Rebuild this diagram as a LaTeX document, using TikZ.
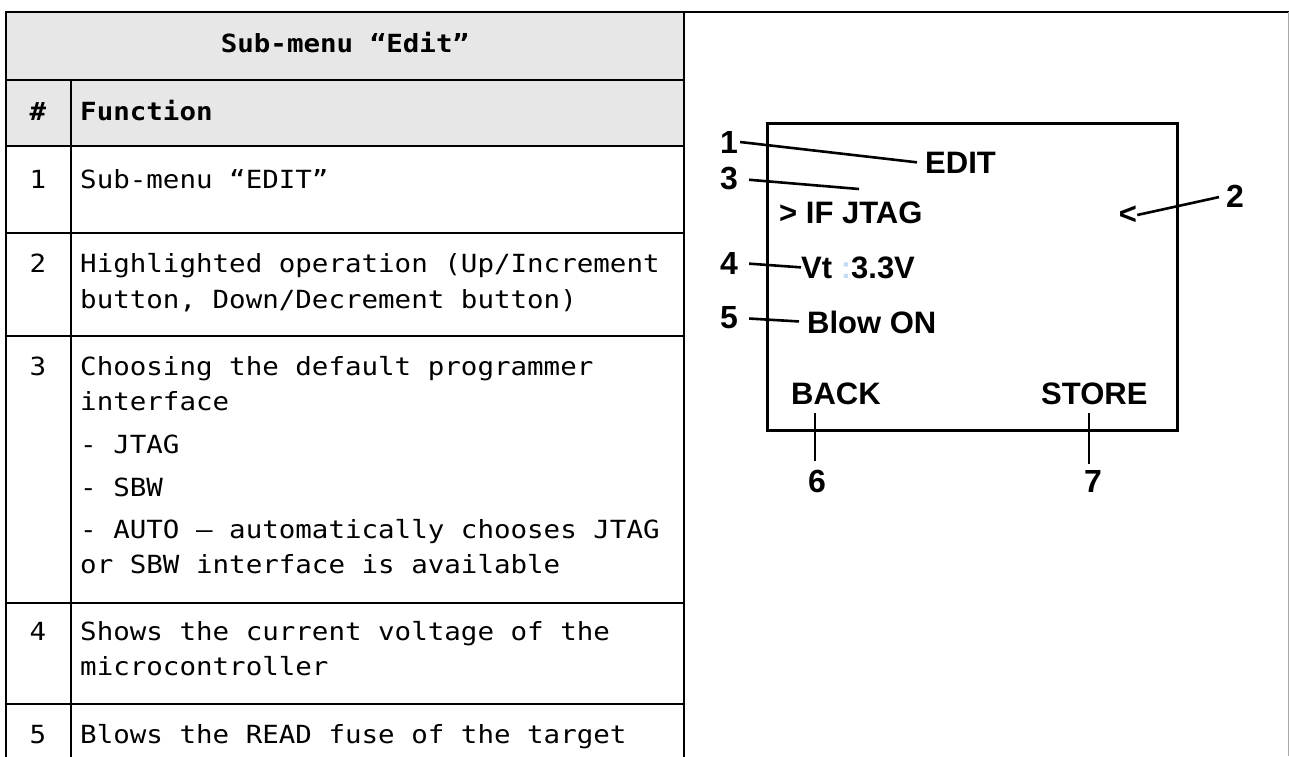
\documentclass[tikz,border=0pt]{standalone}
\usepackage{fontspec}
\usepackage{xcolor}
\usepackage{tikz}
\usetikzlibrary{calc, positioning}
\newfontfamily\monofam[FakeStretch=1.1]{DejaVu Sans Mono}
\newfontfamily\lcdfam{Liberation Sans}
\newcommand{\tabfont}{\monofam\fontsize{25}{30}\selectfont}
\newcommand{\lcdfont}{\lcdfam\bfseries\fontsize{31}{36}\selectfont}
\newcommand{\numfont}{\lcdfam\bfseries\fontsize{32}{36}\selectfont}
\definecolor{headgray}{HTML}{E7E7E7}
\definecolor{edgegray}{HTML}{A8A8A8}
\definecolor{faintcolon}{HTML}{C4DDF4}
\tikzset{rule/.style={line width=2.4pt, line cap=rect},
cell/.style={anchor=base west, inner sep=0pt, font=\tabfont},
num/.style={anchor=base, inner sep=0pt, font=\tabfont},
lcd/.style={anchor=base west, inner sep=0pt, font=\lcdfont},
%callout digits round the screen
callout/.style={inner sep=2pt, font=\numfont},
leader/.style={line width=2.6pt}}

\begin{document}
\begin{tikzpicture}[x=1pt,y=-1pt]
 \useasboundingbox[fill=white] (0,0) rectangle (1289,756);

 %Drawing Table Header
 \fill[headgray] (6,12) rectangle (684,146);

 %Drawing Table Rules
 \draw[rule] (6,12) -- (1288,12);
 \draw[rule] (6,12) -- (6,756);
 \draw[rule] (684,12) -- (684,756);
 \draw[rule] (71,80) -- (71,756);
 \draw[edgegray, line width=1pt] (1288,12) -- (1288,756);
 \draw[rule] (6,80) -- (684,80);
 \draw[rule] (6,146) -- (684,146);
 \draw[rule] (6,233) -- (684,233);
 \draw[rule] (6,336) -- (684,336);
 \draw[rule] (6,603) -- (684,603);
 \draw[rule] (6,704) -- (684,704);

 %Header texts
 \node[cell, anchor=base] (title) at (345,52) {\bfseries Sub-menu “Edit”};
 \node[num] (hnum) at (38,120) {\bfseries \#};
 \node[cell] (hfunc) at (80,120) {\bfseries Function};

 %Row texts
 \node[num] (num1) at (38,188) {1};
 \node[cell] (fn1) at (80,188) {Sub-menu “EDIT”};

 \node[num] (num2) at (38,272) {2};
 \node[cell] (fn2a) at (80,272) {Highlighted operation (Up/Increment};
 \node[cell] (fn2b) at (80,308) {button, Down/Decrement button)};

 \node[num] (num3) at (38,375) {3};
 \node[cell] (fn3a) at (80,375) {Choosing the default programmer};
 \node[cell] (fn3b) at (80,410) {interface};
 \node[cell] (fn3c) at (80,453) {- JTAG};
 \node[cell] (fn3d) at (80,496) {- SBW};
 \node[cell] (fn3e) at (80,538) {- AUTO – automatically chooses JTAG};
 \node[cell] (fn3f) at (80,573) {or SBW interface is available};

 \node[num] (num4) at (38,640) {4};
 \node[cell] (fn4a) at (80,640) {Shows the current voltage of the};
 \node[cell] (fn4b) at (80,675) {microcontroller};

 \node[num] (num5) at (38,743) {5};
 \node[cell] (fn5) at (80,743) {Blows the READ fuse of the target};

 %Drawing the Screen
 \draw[line width=3pt] (767,123) rectangle (1177,430);
 \node[lcd] (edit) at (925,173) {EDIT};
 \node[lcd] (iface) at (779,223) {> IF JTAG};
 \node[lcd] (volt) at (801,278) {Vt \textcolor{faintcolon}{:}3.3V};
 \node[lcd] (blow) at (807,333) {Blow ON};
 \node[lcd] (back) at (791,404) {BACK};
 \node[lcd] (store) at (1041,404) {STORE};
 \node[lcd, anchor=center] (cursor) at (1128,215) {<};

 %Callouts and leader lines
 \node[callout] (n1) at (729,142) {1};
 \node[callout] (n3) at (729,179) {3};
 \node[callout] (n4) at (729,263) {4};
 \node[callout] (n5) at (729,318) {5};
 \node[callout] (n2) at (1235,196) {2};
 \node[callout] (n6) at (817,481) {6};
 \node[callout] (n7) at (1093,481) {7};

 \coordinate (c3) at (859,189);
 \coordinate (t6) at (815,413);
 \coordinate (t7) at (1089,413);

 \draw[leader] (n1.east) -- ([xshift=-8pt]edit.west);
 \draw[leader, shorten <=9pt] (n3.east) -- (c3);
 \draw[leader, shorten <=9pt] (n4.east) -- (volt.west);
 \draw[leader, shorten <=9pt, shorten >=8pt] (n5.east) -- (blow.west);
 \draw[leader, shorten <=5pt] (n2.west) -- (cursor.east);
 \draw[leader, shorten >=6pt] (t6) -- (t6 |- n6.north);
 \draw[leader, shorten >=4pt] (t7) -- (t7 |- n7.north);

\end{tikzpicture}
\end{document}
